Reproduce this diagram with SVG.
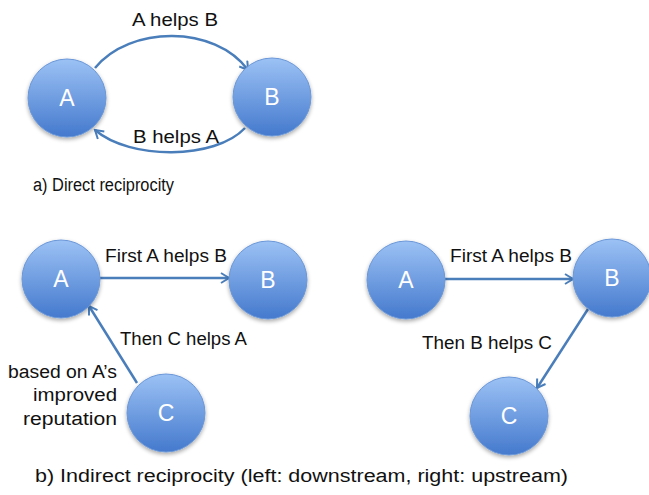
<svg xmlns="http://www.w3.org/2000/svg" width="649" height="495" viewBox="0 0 649 495">
<defs>
<linearGradient id="g" x1="0" y1="0" x2="0" y2="1">
<stop offset="0" stop-color="#9cc2f5"/>
<stop offset="1" stop-color="#4479cd"/>
</linearGradient>
<filter id="sh" x="-20%" y="-20%" width="140%" height="150%">
<feGaussianBlur in="SourceAlpha" stdDeviation="2"/>
<feOffset dy="2" result="b"/>
<feComponentTransfer><feFuncA type="linear" slope="0.35"/></feComponentTransfer>
<feMerge><feMergeNode/><feMergeNode in="SourceGraphic"/></feMerge>
</filter>
<marker id="ah" viewBox="0 0 12 12" refX="10" refY="6" markerWidth="12" markerHeight="12" markerUnits="userSpaceOnUse" orient="auto">
<path d="M2 1 L10 6 L2 11" fill="none" stroke="#4a7ebb" stroke-width="2"/>
</marker>
</defs>
<style>
.n circle{fill:url(#g);stroke:#6a97d8;stroke-width:1;filter:url(#sh)}
.n text{fill:#fff;font-family:"Liberation Sans",Arial,sans-serif;font-size:23px;text-anchor:middle}
.c path{fill:none;stroke:#4a7ebb;stroke-width:2.5;marker-end:url(#ah)}
.t{fill:#111;font-family:"Liberation Sans",Arial,sans-serif;font-size:18px}
</style>
<rect width="649" height="495" fill="#fff"/>
<g id="connectors" class="c">
<path d="M95 68 C130 25,215 25,248 70"/>
<path d="M245 128 C215 160,130 160,95 130"/>
<path d="M100 278 L229 278"/>
<path d="M137 383 L89 306"/>
<path d="M445 279 L573 279"/>
<path d="M588 309 L537 388"/>
</g>
<g id="topA" class="n"><circle cx="67" cy="98" r="39"/><text x="67" y="106">A</text></g>
<g id="topB" class="n"><circle cx="272" cy="97" r="39"/><text x="272" y="105">B</text></g>
<g id="leftA" class="n"><circle cx="61" cy="279" r="39"/><text x="61" y="287">A</text></g>
<g id="leftB" class="n"><circle cx="268" cy="280" r="39"/><text x="268" y="288">B</text></g>
<g id="leftC" class="n"><circle cx="166" cy="413" r="39"/><text x="166" y="421">C</text></g>
<g id="rightA" class="n"><circle cx="406" cy="280" r="39"/><text x="406" y="288">A</text></g>
<g id="rightB" class="n"><circle cx="612" cy="278" r="39"/><text x="612" y="286">B</text></g>
<g id="rightC" class="n"><circle cx="509" cy="416" r="39"/><text x="509" y="424">C</text></g>
<g id="labels">
<text class="t" x="132" y="26" textLength="86" lengthAdjust="spacingAndGlyphs">A helps B</text>
<text class="t" x="133" y="143" textLength="86" lengthAdjust="spacingAndGlyphs">B helps A</text>
<text class="t" x="33" y="191" textLength="141" lengthAdjust="spacingAndGlyphs">a) Direct reciprocity</text>
<text class="t" x="105" y="262" textLength="122" lengthAdjust="spacingAndGlyphs">First A helps B</text>
<text class="t" x="120" y="345" textLength="127" lengthAdjust="spacingAndGlyphs">Then C helps A</text>
<text class="t" x="8" y="378" textLength="109" lengthAdjust="spacingAndGlyphs">based on A’s</text>
<text class="t" x="33" y="401" textLength="84" lengthAdjust="spacingAndGlyphs">improved</text>
<text class="t" x="23" y="425" textLength="94" lengthAdjust="spacingAndGlyphs">reputation</text>
<text class="t" x="450" y="262" textLength="122" lengthAdjust="spacingAndGlyphs">First A helps B</text>
<text class="t" x="422" y="349" textLength="130" lengthAdjust="spacingAndGlyphs">Then B helps C</text>
<text class="t" x="35" y="482" textLength="533" lengthAdjust="spacingAndGlyphs">b) Indirect reciprocity (left: downstream, right: upstream)</text>
</g>
</svg>
